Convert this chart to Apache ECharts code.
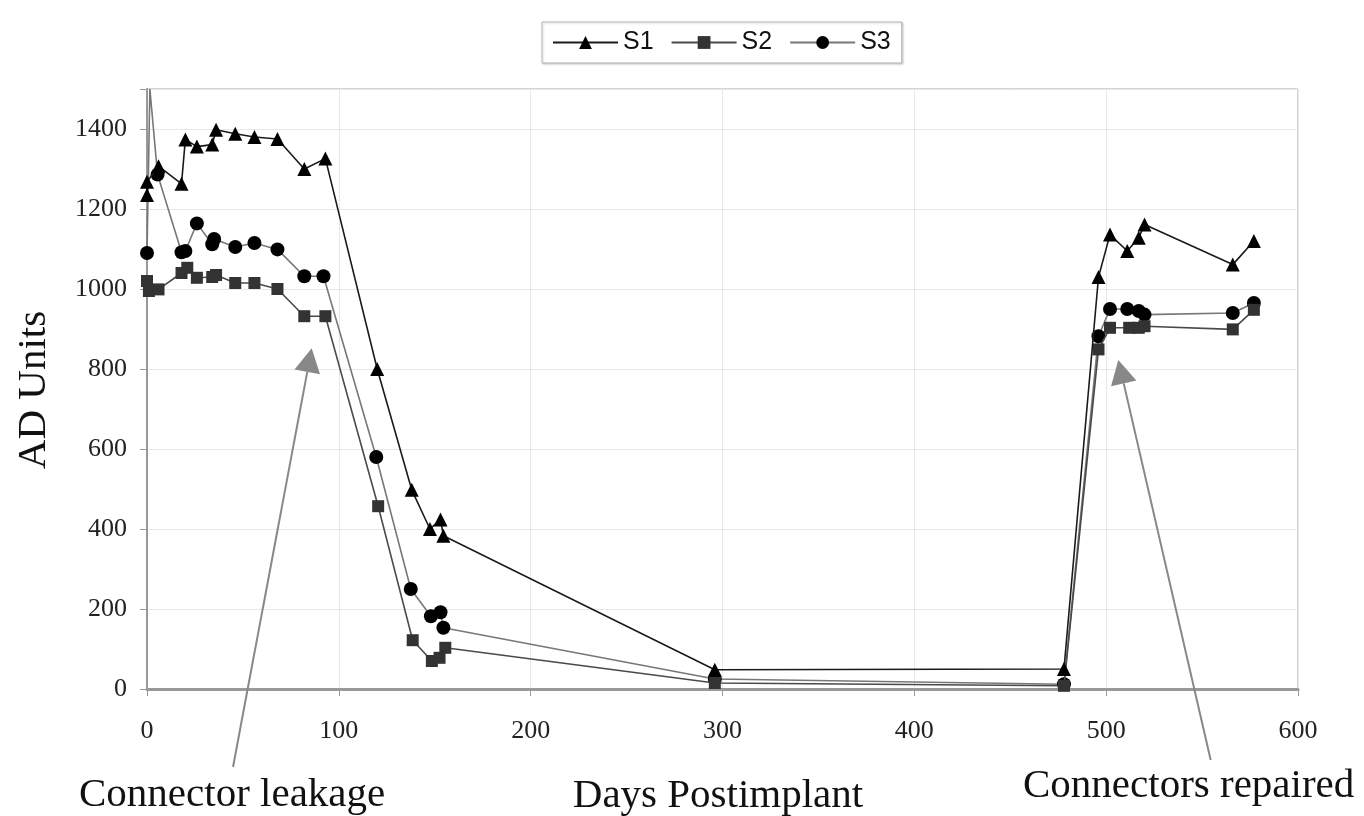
<!DOCTYPE html>
<html>
<head>
<meta charset="utf-8">
<script src="https://cdn.jsdelivr.net/npm/echarts@6/dist/echarts.min.js"></script>
<style>
html,body{margin:0;padding:0;background:#fff;}
#chart{width:1364px;height:816px;}
</style>
</head>
<body>
<div id="chart"></div>
<script>
// ---- Data ----
const seriesNames = ['S1', 'S2', 'S3'];

const s1Days   = [0, 0, 6, 18, 20, 26, 34, 36, 46, 56, 68, 82, 93, 120, 138, 147.5, 153, 154.5, 296, 478, 496, 502, 511, 517, 520, 566, 577];
const s1Values = [1235, 1268, 1307, 1263, 1374, 1356, 1361, 1398, 1388, 1380, 1375, 1300, 1326, 800, 498, 400, 424, 383, 48, 50, 1030, 1136, 1095, 1128, 1161, 1061, 1120];

const s2Days   = [0, 1, 6, 18, 21, 26, 34, 36, 46, 56, 68, 82, 93, 120.5, 138.5, 148.5, 152.5, 155.5, 296, 478, 496, 502, 512, 517, 520, 566, 577];
const s2Values = [1020, 995, 999, 1040, 1053, 1028, 1030, 1035, 1015, 1015, 1000, 932, 932, 457, 122, 70, 78, 103, 15, 8, 849, 903, 903, 903, 907, 899, 948];

const s3Days   = [0, 1.5, 5.5, 18, 20, 26, 34, 35, 46, 56, 68, 82, 92, 119.5, 137.5, 148, 153, 154.5, 296, 478, 496, 502, 511, 517, 520, 566, 577];
const s3Values = [1090, 1500, 1286, 1092, 1095, 1164, 1112, 1125, 1105, 1115, 1099, 1032, 1032, 580, 250, 182, 192, 153, 25, 12, 882, 950, 950, 945, 936, 940, 965];

const xMin = 0, xMax = 600, xStep = 100;
const yMin = 0, yMax = 1500, yStep = 200;

const xTitle = 'Days Postimplant';
const yTitle = 'AD Units';
const noteLeft = 'Connector leakage';
const noteRight = 'Connectors repaired';

// ---- Build ----
// points that run off the top of the plot are drawn without a marker
function pairs(xs, ys) {
  return xs.map((x, i) => ys[i] >= yMax ? {value: [x, ys[i]], symbol: 'none'} : [x, ys[i]]);
}

const serif = '"Liberation Serif", "Times New Roman", serif';
const sans = '"Liberation Sans", Arial, sans-serif';

const chart = echarts.init(document.getElementById('chart'), null, {renderer: 'canvas'});

function arrow(x1, y1, x2, y2) {
  const dx = x2 - x1, dy = y2 - y1;
  const len = Math.sqrt(dx * dx + dy * dy);
  const ux = dx / len, uy = dy / len;
  const nx = -uy, ny = ux;
  const hl = 24, hw = 13;
  const bx = x2 - ux * hl, by = y2 - uy * hl;
  return [
    {type: 'line', shape: {x1: x1, y1: y1, x2: bx, y2: by}, style: {stroke: '#888', lineWidth: 2}, z: 20},
    {type: 'polygon', shape: {points: [[x2, y2], [bx + nx * hw, by + ny * hw], [bx - nx * hw, by - ny * hw]]}, style: {fill: '#888'}, z: 20}
  ];
}

const lineColors = ['#1a1a1a', '#4a4a4a', '#777'];
const markColors = ['#000', '#333', '#000'];
const symbols = ['triangle', 'rect', 'circle'];
const sizes = [14, 12, 14];
const dataSets = [pairs(s1Days, s1Values), pairs(s2Days, s2Values), pairs(s3Days, s3Values)];

const series = seriesNames.map((name, i) => ({
  name: name,
  type: 'line',
  data: dataSets[i],
  symbol: symbols[i],
  symbolSize: sizes[i],
  showAllSymbol: true,
  clip: true,
  lineStyle: {color: lineColors[i], width: 1.6},
  itemStyle: {color: markColors[i]},
  z: 10 - i
}));

const option = {
  backgroundColor: '#fff',
  animation: false,
  legend: {
    data: seriesNames,
    left: 542,
    top: 22,
    padding: [8, 11, 8, 10],
    itemGap: 17,
    itemWidth: 65,
    itemHeight: 16,
    borderColor: '#b5b5b5',
    borderWidth: 1,
    shadowColor: 'rgba(0,0,0,0.18)',
    shadowBlur: 2,
    shadowOffsetX: 1,
    shadowOffsetY: 1,
    backgroundColor: '#fff',
    textStyle: {fontFamily: sans, fontSize: 25, color: '#111'}
  },
  grid: {
    left: 147, right: 66, top: 89, bottom: 127,
    show: true, borderColor: '#a8a8a8', borderWidth: 1
  },
  xAxis: {
    type: 'value',
    min: xMin, max: xMax, interval: xStep,
    axisLine: {show: true, onZero: false, lineStyle: {color: '#999', width: 3}},
    axisTick: {show: true, length: 7, lineStyle: {color: '#999'}},
    axisLabel: {margin: 29, fontFamily: serif, fontSize: 26, color: '#222'},
    splitLine: {show: true, lineStyle: {color: '#e8e8e8', width: 1}}
  },
  yAxis: {
    type: 'value',
    min: yMin, max: yMax, interval: yStep,
    axisLine: {show: true, onZero: false, lineStyle: {color: '#999', width: 2}},
    axisTick: {show: true, length: 7, lineStyle: {color: '#999'}},
    axisLabel: {
      margin: 20, fontFamily: serif, fontSize: 26, color: '#222',
      formatter: function (v) { return v > 1400 ? '' : String(v); }
    },
    splitLine: {show: true, lineStyle: {color: '#e8e8e8', width: 1}}
  },
  series: series,
  graphic: [
    {type: 'text', x: 34, y: 390, rotation: Math.PI / 2,
     style: {text: yTitle, font: '41px ' + serif, fill: '#111', align: 'center', verticalAlign: 'middle'}},
    {type: 'text', x: 718, y: 796,
     style: {text: xTitle, font: '41px ' + serif, fill: '#111', align: 'center', verticalAlign: 'middle'}},
    {type: 'text', x: 79, y: 795,
     style: {text: noteLeft, font: '41px ' + serif, fill: '#111', align: 'left', verticalAlign: 'middle'}},
    {type: 'text', x: 1023, y: 786,
     style: {text: noteRight, font: '41px ' + serif, fill: '#111', align: 'left', verticalAlign: 'middle'}}
  ].concat(arrow(233, 767, 311.7, 348.3), arrow(1210.7, 760, 1118.3, 360))
};

chart.setOption(option);
</script>
</body>
</html>
